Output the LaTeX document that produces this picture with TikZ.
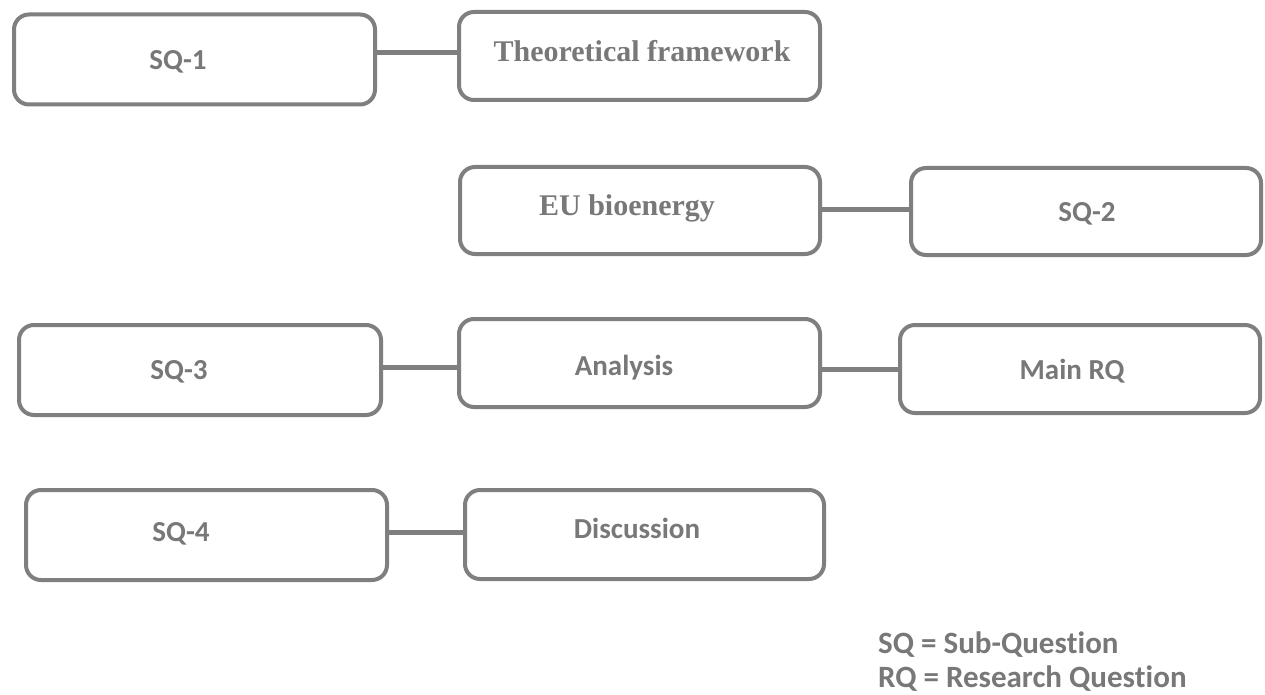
\documentclass[tikz,border=0pt]{standalone}
\usepackage{fontspec}
\newfontfamily\calfont[Ligatures={NoCommon,NoContextual}]{Carlito}
\newfontfamily\timesfont{Liberation Serif}
\definecolor{boxgray}{HTML}{7F7F7F}
\definecolor{txtgray}{HTML}{787878}
\begin{document}
\begin{tikzpicture}[x=1pt,y=-1pt,
  box/.style={draw=boxgray, line width=4pt, rounded corners=15pt, fill=white, inner sep=0pt},
  conn/.style={draw=boxgray, line width=5pt},
  ctxt/.style={text=txtgray, inner sep=0pt, anchor=base, font=\calfont\bfseries\fontsize{29}{35}\selectfont},
  ttxt/.style={text=txtgray, inner sep=0pt, anchor=base, font=\timesfont\bfseries\fontsize{30}{36}\selectfont},
  legtxt/.style={text=txtgray, inner sep=0pt, anchor=base west, font=\calfont\bfseries\fontsize{31}{37}\selectfont}]
\useasboundingbox[fill=white] (0,0) rectangle (1265,695);
% boxes
\node[box, minimum width=361pt, minimum height=90pt] (sq1) at (194.5,59.5) {};
\node[box, minimum width=361pt, minimum height=88pt] (tf) at (639.5,56) {};
\node[box, minimum width=360pt, minimum height=87pt] (eu) at (640,210.5) {};
\node[box, minimum width=350pt, minimum height=87pt] (sq2) at (1086,211.5) {};
\node[box, minimum width=362pt, minimum height=90pt] (sq3) at (200,370) {};
\node[box, minimum width=361pt, minimum height=88pt] (an) at (639.5,363) {};
\node[box, minimum width=360pt, minimum height=88pt] (mrq) at (1080,369) {};
\node[box, minimum width=361pt, minimum height=90pt] (sq4) at (206.5,535) {};
\node[box, minimum width=359pt, minimum height=89pt] (disc) at (644.5,534.5) {};
% connectors
\draw[conn] ([yshift=6.5pt]sq1.east) -- ([yshift=6.5pt]sq1.east -| tf.west);
\draw[conn] ([yshift=1.5pt]eu.east) -- ([yshift=1.5pt]eu.east -| sq2.west);
\draw[conn] ([yshift=3pt]sq3.east) -- ([yshift=3pt]sq3.east -| an.west);
\draw[conn] ([yshift=-6pt]an.east) -- ([yshift=-6pt]an.east -| mrq.west);
\draw[conn] ([yshift=3pt]sq4.east) -- ([yshift=3pt]sq4.east -| disc.west);
% texts
\node[ctxt] (sq1t) at (178,70) {SQ-1};
\node[ttxt] (tft) at (642,62) {Theoretical framework};
\node[ttxt] (eut) at (627,215) {EU bioenergy};
\node[ctxt] (sq2t) at (1087,221) {SQ-2};
\node[ctxt] (sq3t) at (179,379) {SQ-3};
\node[ctxt] (ant) at (624,375) {Analysis};
\node[ctxt] (mrqt) at (1072,379) {Main RQ};
\node[ctxt] (sq4t) at (181,541) {SQ-4};
\node[ctxt] (disct) at (637,538) {Discussion};
% legend
\node[legtxt] (leg1) at (878,653) {SQ = Sub-Ques\kern0pt t\kern0pt ion};
\node[legtxt] (leg2) at (878,687) {RQ = Research Ques\kern0pt t\kern0pt ion};
\end{tikzpicture}
\end{document}
